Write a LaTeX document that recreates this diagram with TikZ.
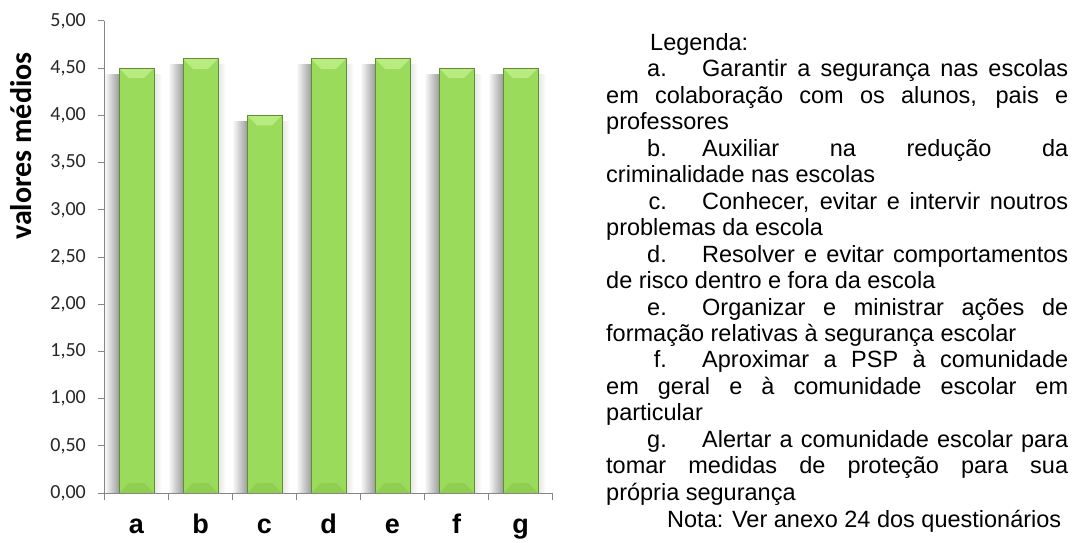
\documentclass[tikz,border=0pt]{standalone}
\usepackage{fontspec}
\setmainfont{Liberation Sans}
\newfontfamily\calibri{Carlito}
\definecolor{barfill}{HTML}{9BDB5B}
\definecolor{barline}{HTML}{5F8F2F}
\definecolor{bartop}{HTML}{B8EC80}
\definecolor{barbot}{HTML}{90CE52}
\definecolor{axisgray}{HTML}{868686}
\begin{document}
\begin{tikzpicture}[x=1pt,y=-1pt,
  ticklab/.style={anchor=east, inner sep=0pt, font=\calibri\fontsize{20}{22}\selectfont, text=black!85},
  catlab/.style={anchor=base, inner sep=0pt, font=\bfseries\fontsize{27}{30}\selectfont},
  leg/.style={anchor=base west, inner sep=0pt, font=\fontsize{23.5}{26}\selectfont},
  legnum/.style={anchor=base east, inner sep=0pt, font=\fontsize{23.5}{26}\selectfont}]
\useasboundingbox (0,0) rectangle (1078,543);
% bars
\foreach \v [count=\j from 0] in {4.5,4.6,4.0,4.6,4.6,4.5,4.5} {
  \pgfmathsetmacro\L{104+64*\j+15}
  \pgfmathsetmacro\R{\L+35}
  \pgfmathsetmacro\T{493-94.4*\v}
  \shade[left color=white, right color=black!38] (\L-15,\T+6) rectangle (\L,493);
  \shade[left color=black!10, right color=white] (\R,\T+6) rectangle (\R+8,493);
  \fill[barfill] (\L,\T) rectangle (\R,493);
  \fill[bartop] (\L,\T) -- (\R,\T) -- (\R-10,\T+10) -- (\L+10,\T+10) -- cycle;
  \fill[barbot] (\L,493) -- (\R,493) -- (\R-10,483) -- (\L+10,483) -- cycle;
  \draw[barline, line width=0.8pt] (\L,\T) rectangle (\R,493);
}
% axes
\draw[axisgray, line width=1pt] (104,21) coordinate (ytop) -- (104,493) coordinate (orig) -- (552,493) coordinate (xend);
\foreach \k/\a/\b in {0/0/00,1/0/50,2/1/00,3/1/50,4/2/00,5/2/50,6/3/00,7/3/50,8/4/00,9/4/50,10/5/00} {
  \draw[axisgray, line width=1pt] (98,{493-47.2*\k}) -- (104,{493-47.2*\k});
  \node[ticklab] (t\k) at (86,{493-47.2*\k}) {\a,\b};
}
\foreach \k in {0,...,7} {
  \draw[axisgray, line width=1pt] ({104+64*\k},493) -- ({104+64*\k},500);
}
\foreach \c [count=\j from 0] in {a,b,c,d,e,f,g} {
  \node[catlab] (x\c) at ({136.5+64*\j},533) {\c};
}
\node[rotate=90, inner sep=0pt, font=\calibri\bfseries\fontsize{30}{32}\selectfont] (ytitle) at (21,146) {valores médios};
% legend
\node[leg] (l0) at (650,50.5) {Legenda:};
\node[legnum] (la) at (667,76.95) {a.};
\node[leg] (l1) at (702,76.95) {\makebox[366pt][s]{Garantir a segurança nas escolas}};
\node[leg] (l2) at (606,103.4) {\makebox[462pt][s]{em colaboração com os alunos, pais e}};
\node[leg] (l3) at (606,129.85) {professores};
\node[legnum] (lb) at (667,156.3) {b.};
\node[leg] (l4) at (702,156.3) {\makebox[366pt][s]{Auxiliar na redução da}};
\node[leg] (l5) at (606,182.75) {criminalidade nas escolas};
\node[legnum] (lc) at (667,209.2) {c.};
\node[leg] (l6) at (702,209.2) {\makebox[366pt][s]{Conhecer, evitar e intervir noutros}};
\node[leg] (l7) at (606,235.65) {problemas da escola};
\node[legnum] (ld) at (667,262.1) {d.};
\node[leg] (l8) at (702,262.1) {\makebox[366pt][s]{Resolver e evitar comportamentos}};
\node[leg] (l9) at (606,288.55) {de risco dentro e fora da escola};
\node[legnum] (le) at (667,315) {e.};
\node[leg] (l10) at (702,315) {\makebox[366pt][s]{Organizar e ministrar ações de}};
\node[leg] (l11) at (606,341.45) {formação relativas à segurança escolar};
\node[legnum] (lf) at (667,367.9) {f.};
\node[leg] (l12) at (702,367.9) {\makebox[366pt][s]{Aproximar a PSP à comunidade}};
\node[leg] (l13) at (606,394.35) {\makebox[462pt][s]{em geral e à comunidade escolar em}};
\node[leg] (l14) at (606,420.8) {particular};
\node[legnum] (lg) at (667,447.25) {g.};
\node[leg] (l15) at (702,447.25) {\makebox[366pt][s]{Alertar a comunidade escolar para}};
\node[leg] (l16) at (606,473.7) {\makebox[462pt][s]{tomar medidas de proteção para sua}};
\node[leg] (l17) at (606,500.15) {própria segurança};
\node[leg] (l18) at (667,527) {Nota: Ver anexo 24 dos questionários};
\end{tikzpicture}
\end{document}
